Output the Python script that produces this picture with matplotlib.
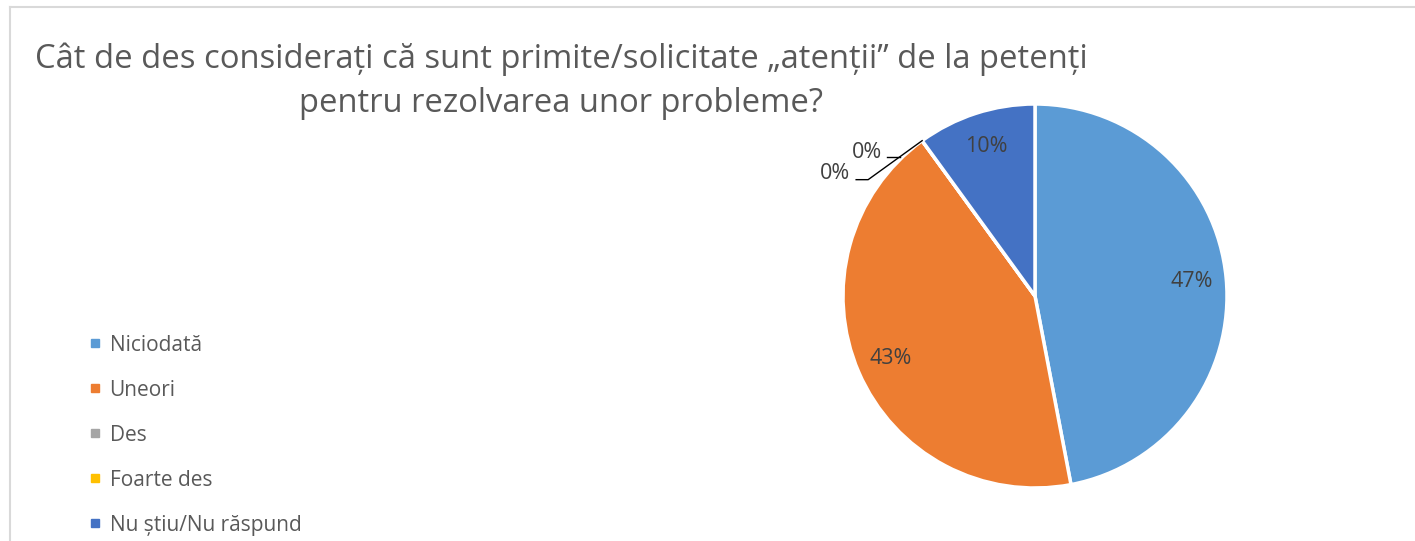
import numpy as np
import matplotlib.pyplot as plt
from matplotlib.lines import Line2D

plt.rcParams['font.family'] = ['Open Sans', 'DejaVu Sans']

# data
categories = ["Niciodată", "Uneori", "Des", "Foarte des", "Nu știu/Nu răspund"]
values = [47, 43, 0, 0, 10]
colors = ["#5B9BD5", "#ED7D31", "#A5A5A5", "#FFC000", "#4472C4"]
title = "Cât de des considerați că sunt primite/solicitate „atenții” de la petenți\npentru rezolvarea unor probleme?"

W, H = 1415, 541
fig = plt.figure(figsize=(W / 100, H / 100), dpi=100)
ax = fig.add_axes([0, 0, 1, 1])

cx, cy, R = 1035, H - 296, 192


def pct_label(p):
    return "" if p < 0.5 else f"{p:.0f}%"


wedges, texts, autotexts = ax.pie(values, colors=colors, startangle=90, counterclock=False,
                                  center=(cx, cy), radius=R, autopct=pct_label, pctdistance=0.82,
                                  wedgeprops=dict(edgecolor="white", linewidth=2.5),
                                  textprops=dict(color="#404040", fontsize=15.5))
ax.set_xlim(0, W)
ax.set_ylim(0, H)
ax.set_aspect("equal")
ax.axis("off")

# leader lines for the 0% slices
ang = np.deg2rad(wedges[2].theta1)
px, py = cx + R * np.cos(ang), cy + R * np.sin(ang)
ax.plot([px, px - 54, px - 66], [py, py - 39, py - 39], color="black", lw=1)
ax.text(px - 72, py - 33, "0%", ha="right", va="center", color="#404040", fontsize=15.5)
ax.plot([px - 35, px - 22], [py - 16, py - 16], color="black", lw=1)
ax.text(px - 40, py - 12, "0%", ha="right", va="center", color="#404040", fontsize=15.5)

# title
ax.text(561, H - 42, title, ha="center", va="top", fontsize=23.6, color="#595959", linespacing=1.45)

# legend
handles = [Line2D([], [], marker="s", ls="none", color=c, markersize=5.5) for c in colors]
leg = ax.legend(handles, categories, loc="upper left", bbox_to_anchor=(70 / W, 1 - 316 / H),
                frameon=False, fontsize=15, labelcolor="#595959", labelspacing=1.15,
                handlelength=0.6, handletextpad=0.4)

# chart frame
ax.plot([10, W], [H - 7, H - 7], color="#D9D9D9", lw=1.5)
ax.plot([10, 10], [H - 7, 0], color="#D9D9D9", lw=1.5)

fig.savefig("out.png", dpi=100)
